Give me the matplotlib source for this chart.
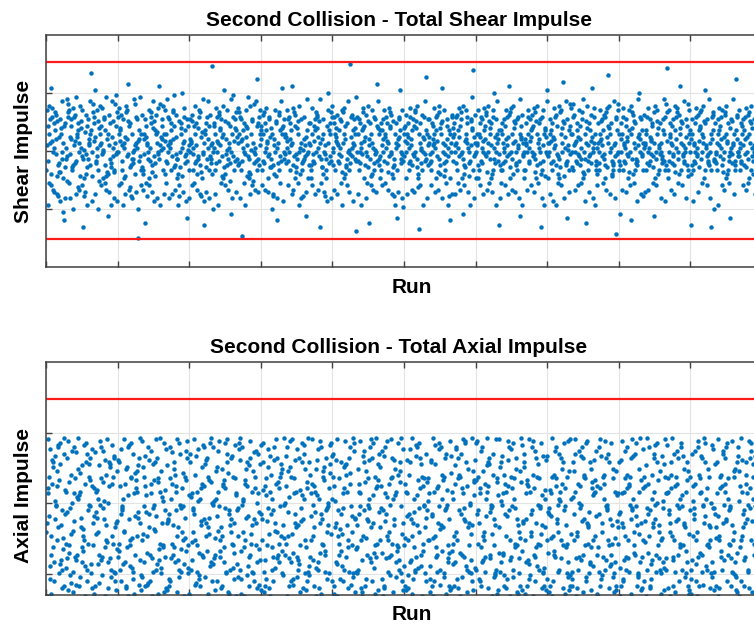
import numpy as np
import matplotlib.pyplot as plt

# shear key: low .. high, spread evenly over 0.272 .. 3.502
shear_key = ("(){},~-.+*/01234567"
             "8l9m:<i>?;A=@C[FVDRGP]SEOMQILKTH^UNBW_XaYbZcJdeg`hfjk"
             "nopqrstuvwxyz|")
shear_lo, shear_hi = 0.272, 3.502
shear_runs = (
    "RdK9XS@gNTb=pVHZe;QLa?WJ^cMF>YPi]DUb:DN_hEQ[7T3XGa<ELfOC`ZJd@U"
    "M<Xb^GRe8PKZ]cHSj>NUAWa;QTFg_LY=Od0EIi[B?VMcGX9EbTK^NhPWw:QF`JZ"
    "aHUo>S]dLO8YRC_gKNX=TeMQ[IbZ@WP;jFD^VN5c?KEa9G]UhLOY<RD`TkMX:QJ"
    "QZ=eN_HWc@KSR9b[LTF>UgJO^dMrY;XAaGPi<ENE]QfIVK`Z?TLb8H-S^WjOR=N"
    "GcR;V^MN2bUX@KiTQE[=dSLZJa?PD_h:YOF]WNcTB<QeMEqK`9UIbX^LgR>NHVd"
    "S@Nf]KZQb<TLHaWR>OdJ^XGk;PUMc[EE9VYi=QG_NaFLnT?ZHeWO]M:S4bIXR<K"
    "b^QHT=YcMRL@X]gNKSa;VOE_dZP>JiDUB[QMf:T1WNa?GEZ^LhR<XOcKE]VTz8Q"
    "LXa>NR]eHQZ9TSJc_KWb@UOF[NgGo=VYM^dPI;EaTLC]X6fQ<NZOkHR_bSJ?WUE"
    "PTe]JNZ<RHb^S.WLa@QM9XdUF_KjO[ED>VgNIb=YTCQ]`ML;ShRtXaE?PZdNK^W"
    "X=RcSN]JaQ;LWeTH[O?ZbMUG_GE8NiP>KV^dQYaF3L<T]cRJO@WSh_NpX:EQbUM"
    "N]UdLHSb=QZR^aKWq>TPe;OJ[XcMDG_E@YNgQ9LVb<TR]IiSEZ^OK?U5fMW[QaP"
    "TKa[RPN=eSM]XH>WbJQ_ZcUL;OY0TfE@GG^NbV?QiMKE[R:XdTnW]NaOS<JZgLP"
    "Q;ZaNRU_HTc>SKW]MLbY@OD9dJTe[NXV^PGa=EQhI?R|M]UZcLO:WTbKE_N*jSQ"
    "ZSN>bRQ]aLT9MWe_JXH[PU<cQO@YGgK^2EaNF=TVd;LR]ZbMIQ?XrS_hPNEW[Oa"
    "R=KWbQ^SdNU@ZLa]HDT;eOJX_MQc>VYG[EPi9NaTLR4^K?ZbUoWE]QM<dSlON_X"
    "HQ[cTN>UaRL]ZSe^KW;PMbXO?JdQ_YGgEA[V/N=TaLI]cRU9QZ^MhSWuE<NPbKT"
    "UbM]RS=QaXK^NeTL?WZ[OcHD;JgEP_VNapY<QTF]dMRK@SXb^LO9Wi3N[QTc>ZU"
    "S_NaQK>ZT]cRLW@UeOX;MbJ[Q6EgP=VHG^dNTaZ?LQ]F9SbYKW_jRxO<UcMT[QN"
    "KTdP[RN=aUSZ]LbQH>WeMX^JcO;DTgQY@NE_aK[V?ZRdLnE]U9QbTNh^SM1W<PR"
    "W@RaN]TbQL=SXd^KZO>UqcMGJ[QeE;NgTVY_H?aPQ]RbLKZ<Sf5N^UXc9OTMR[Q"
    "R^TaKQ;ZNd]SLbHW=UQc_OX?MeDEJ[YgNP@Ta^LQ]b0VZ<RKdSN9WF_QUhMoT[O"
    "TQ>bNW]HaRS:UeL^KZ9PcMXO@VgE[JGd=NT_QsYF<aLU]hP4SbIK?WR`MXeNGQ"
    "NZ`RKc;QTSH]aWM=UOdP^XL@EbJ[DfQVE:N2TY_gKRSa?OMW]cHUp<LQZeTN9PR"
    "SVL=aTRQ]NdHY^KOb@WEMcZ[PJ;UeGTXv_gQN>LaSFV]PRhKO<Tb+ZMWQ`dRNS6"
    "Pa^QN;RZeSKT]L?XbMUH[OdWD=Q3gNE_JVc@YTLaRE]P:SUfKNn^QZb>MOWRiTL"
    "cKT?WRN]ZQe;PLbSU^MHaXG@O5JT[gQE=NYdV_LKRaM<QTE]ObWSfNZ:R`PJy"
    "HR[dSQaNU;TKX]bOM>PWgDZ^LeJE@QVcNq_TRY=aKMO]hSQL<UbPXRF`dNTWQ1"
    "V^bPNR:TSKaQ]ZeMOLc?WGHX_JdEN@QTgU[YRaoLK=ObSM]PfTQ<NR0Z^cWJS8E"
    "SaQM]TRb9NKWeXOZ^LP=dDEU;QcJN[gTVHaR@SO_Q4LbMY]TKfN>PSRtW^ZcQO"
    "QOdRTL]SaNX=bKPW^ZMG;eUQEc@JN[TYgRaOL_VSKbQ>MpTR]dNPWZf<SQH2aR"
)
shear_limits = [0.48, 3.53]

# axial key: low .. high, spread evenly over 0.69 .. 2.93
axial_key = ("(aA)b0B*c+dC,e1DfE-gF.2hG/H:iI3j;Jk<lK=4mL>M"
             "?nN5o@Op[qP]6rQ^R_sS7t`Tu{vU8w|VW}xX9y~YzZ")
axial_lo, axial_hi = 0.69, 2.93
axial_runs = (
    "k4(Qz]7Mf+Xa;2wR{8Hc-LpV@o3^Ty9Ks,E~Ug=1bN/jZ0W?rD6i|Fn)Y_h:C"
    "5tJ*xO<eA]9mS.gB}q2Z[u0P`6dK>vH-lG;3yR(f8~Wc1Ni@7Uo|sE,X^b4:M"
    "Qa}0n6Jr>E[k2*vY@g9S.Cx_5pL(Hw3t=Iz-Ob8^F{Ud1;Ry7i|Ve,Kc4)m/T"
    "w.8Gi^1Xc?oN5[Ek<z-Ru0bH{9P(yL:3fS~7jD+eW]aM2`Qs6;Tv>nB|4gZ)C"
    "3Yd{J-7oV0^Pn;hB*9wK?c2R]xF(e5Ul@s8<Mz1E|aS_/gi6ZD,T4q:Hp~A.rN"
    "bX)v4Lm+0?Sc9[F}iR2=u8Ht-N6^zA;gK~1d@We/5kQ`o3(Ej>7xGs|Y,D:aP"
    "(8Wq1g]Ik5Nz?3Bt*Ve:6pX+hC[0mQ=2{Ry.L^9dU;4wG|7aKs>Jf~_Z-cO@E"
    "9pF)j2[Tc{Mx6<oY.G3bK;0uR^Hs-5~Qe,zW8`A?aN=1kL|Vi7:Dh+4yS(P]E"
    "N;5dX~w1Za+G9@p[kH(s3Ru>C8^fM.0vY|2iJ=6eT,Lc}Q7x:4bO-W]nB/gU?"
    "y)3Lr~8Ae^0gS+Pm:X5{bJ(6V?tH[1cN.9wD<4zR|Fk_2iQ-o7`U;uG,C=jZ@"
    "2O^iV9(nT;qF0{Yc-7Jz+Bh]S4?wK6.dX=1gE|rA:5mP~8bL[yW3,uH)cQ_eZ"
    "fC8.tM]3zR@g;K0^n6uD(wP-1Xb[h4Y?a9Li:7Ts{2Ge|Nk+5Oo=Q,U`yJ~cV"
    "[7Wa0^Kp-4wE(zN;2iS+lG?8fJ]5cQ1{vY.tU6=3bH|e9R`oB:kM,Zd~x>LA/"
    "e,H=1uR?6Yo]3bA(gV;8xN_0jT+2Lm@S5[wF9-zK|cP~4hD:7aQ.Zi^Us)Wn{3"
    "K5^x+hN(0bV]9mF?qY;3eR.kC@2zS|i7A[wL=uP-6dG:Ht~1gT_8oZ,Jc4)Xf"
    ":0Rj6)Mw]3Cb?tX-8gL;Za+4Hn[1eV.yP9=sD~5kQ|2fU(7Gi^S@oK,cW>N_3"
    "pS3]A+f8wM0?jZ(6cU;yH.2eQ^4oX~1lB=9tG[sK,7dN|5Wa@rF:-Lh0Y)bV`"
    "6G[iE;0vR-9kX+3bS|tN(7hW?2dQ]zL.5mY~8fA^1uK:4eO@gJ,c=Z)Ts_Pw"
    "D~1sY?7iN+4Qc]0xH-9gT;3kR.eM[6vZ^8bU|2nF@5oJ(tW:dL,C=1zS_aP)h"
    "Kz{e8-pV@2]hCt0?Rb;6M+Y^w9N3(gX7.oQ1~dS[iH5|uLA:a=F,k0jT_Zy)G4"
    "mW8{a3L-]sR0g^E+z6Ck?;N9Y(t2Qc.x4H|f7U@i1S:o5J~P=be,VD0r[Kw)3"
    "V+hn?5A0r]jM7Z(c;t2G.x9^S4Le@k1W[p6|F3Ru:b8~NoQa=H7,iY-dT)C0z"
    "J[0e+8qT?3zW6(F;kbR1.xO5^Vg@9mA2|tL7:Sd~c4Y=iK,nE8-Hu)Q_f3P]w"
    ";s6Mx^2aH(e9?Qz0+V4Ck.7Rt[1Yg|o5@N3Wb8:Lf~E2i=uSd,A6-jT0)mP]K"
    "i8?Dn(0wY]4c+K6gS;x1.Q9tF3^eR7@La|z5N[V:kh2W~oM0=Cd,u6J-Z4s)b"
    ".Q3Xc7^Im(v1Z5?hR9;bN0+Et[g4K6|Wy@L2e~O8s:F=k1Ta3,Vj5-pD)U7z]"
    "F1y]S6b?Nk4(Qt8;Z0g.W3e^Am7@Rx2|Lc5[Hi9~P1o:Vu4=Kd6,Gs8-T0a)J"
    "7Na+1gW^p;L5?xR3cE(k9Y.t0S]h6V|e2B@o4Z~8M[f1Q:iu7H=b3K,Od-y5X)"
    "e5?U0Kj]8M(z3;bQ7.tG1^xW4@gR6|mL9~cS2[iN5:oF0=eY3,kT7-uCd)A8hV"
    "9(TpH^3Zc;w6K?g0N4.tR8]Le1@Yb5|Qx3~mA7[Ui2:Vo=k6,S0dF-zJ4)hG_"
)
axial_limits = [3.47]


def decode(text, key, lo, hi):
    idx = np.array([key.index(c) for c in text])
    return lo + (hi - lo) * idx / (len(key) - 1)


def style(ax, n, ylim, yticks):
    ax.set_xlim(0, n)
    ax.set_ylim(*ylim)
    ax.set_xticks(np.linspace(0, n, 11))
    ax.set_yticks(yticks)
    ax.set_xticklabels([])
    ax.set_yticklabels([])
    ax.tick_params(direction='in', length=4.5, width=1, color='#404040',
                   top=True, right=True)
    ax.grid(True, color='#e3e3e3', lw=0.8)
    ax.set_axisbelow(True)
    for s in ax.spines.values():
        s.set_color('#404040')
        s.set_linewidth(1.1)


def main():
    plt.rcParams['font.family'] = ['Liberation Sans', 'DejaVu Sans']
    fig = plt.figure(figsize=(7.54, 6.26), dpi=100)
    W, H = 754, 626
    ax1 = fig.add_axes([46 / W, 1 - 267 / H, 716 / W, 232 / H])
    ax2 = fig.add_axes([46 / W, 1 - 595 / H, 716 / W, 233 / H])
    blue = '#0072BD'

    shear = decode(shear_runs, shear_key, shear_lo, shear_hi)
    axial = decode(axial_runs, axial_key, axial_lo, axial_hi)

    ax1.plot(np.arange(1, len(shear) + 1), shear, 'o', ms=3.2, color=blue, mec='none')
    for v in shear_limits:
        ax1.axhline(v, color='#ff1a1a', lw=1.6)
    style(ax1, len(shear) + 1, (0, 4), [1, 2, 3])

    ax2.plot(np.arange(1, len(axial) + 1), axial, 'o', ms=3.2, color=blue, mec='none')
    for v in axial_limits:
        ax2.axhline(v, color='#ff1a1a', lw=1.6)
    style(ax2, len(axial) + 1, (0.70, 4.0), [1, 2, 3])

    font = dict(fontsize=15, fontweight='bold')
    ax1.set_title('Second Collision - Total Shear Impulse', x=0.493, pad=6.5, **font)
    ax2.set_title('Second Collision - Total Axial Impulse', x=0.493, pad=6.5, **font)
    ax1.set_xlabel('Run', **font)
    ax2.set_xlabel('Run', **font)
    ax1.set_ylabel('Shear Impulse', **font)
    ax2.set_ylabel('Axial Impulse', **font)
    ax1.xaxis.set_label_coords(0.511, -0.047)
    ax2.xaxis.set_label_coords(0.511, -0.043)
    ax1.yaxis.set_label_coords(-0.018, 0.496)
    ax2.yaxis.set_label_coords(-0.018, 0.425)

    fig.savefig('out.png', dpi=100)


if __name__ == '__main__':
    main()
